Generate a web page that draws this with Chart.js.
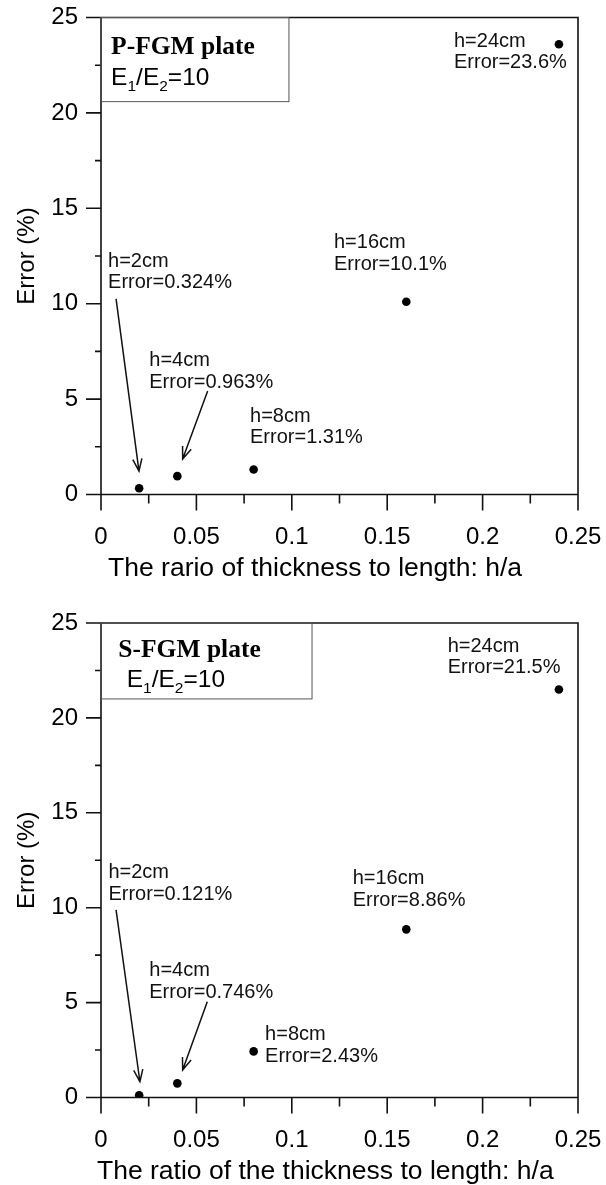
<!DOCTYPE html>
<html>
<head>
<meta charset="utf-8">
<script src="https://cdn.jsdelivr.net/npm/chart.js@4.4.0/dist/chart.umd.min.js"></script>
<style>
  html, body { margin: 0; padding: 0; background: #fff; overflow: hidden; }
  .panel { position: absolute; left: 0; width: 606px; height: 592px; }
</style>
</head>
<body>
<div class="panel" style="top:0"><canvas id="chartP" width="606" height="592"></canvas></div>
<div class="panel" style="top:605px"><canvas id="chartS" width="606" height="592"></canvas></div>
<script>
// data
const ratio = [0.02, 0.04, 0.08, 0.16, 0.24];
const thicknessCm = [2, 4, 8, 16, 24];
const errorP = [0.324, 0.963, 1.31, 10.1, 23.6];
const errorS = [0.121, 0.746, 2.43, 8.86, 21.5];
const xTicks = [0, 0.05, 0.1, 0.15, 0.2, 0.25];
const yTicks = [0, 5, 10, 15, 20, 25];

// annotation anchors, in data units (x = h/a, y = error %)
const labelPosP = [[0.0037, 11.94], [0.0253, 6.73], [0.0781, 3.82], [0.1221, 12.9], [0.185, 23.47]];
const labelPosS = [[0.0039, 11.55], [0.0253, 6.40], [0.086, 3.03], [0.1319, 11.25], [0.1817, 23.49]];
const arrowsP = [[[0.0079, 10.25], [0.0199, 1.23]], [[0.0559, 5.42], [0.0428, 1.86]]];
const arrowsS = [[[0.0079, 9.88], [0.0204, 0.83]], [[0.0557, 5.05], [0.0428, 1.45]]];

const SANS = "'Liberation Sans', Arial, sans-serif";
const SERIF = "'Liberation Serif', 'Times New Roman', serif";

function drawArrow(ctx, x1, y1, x2, y2) {
  const a = Math.atan2(y2 - y1, x2 - x1);
  const len = 13, spread = 0.36;
  ctx.beginPath();
  ctx.moveTo(x1, y1);
  ctx.lineTo(x2, y2);
  ctx.moveTo(x2 - len * Math.cos(a - spread), y2 - len * Math.sin(a - spread));
  ctx.lineTo(x2, y2);
  ctx.lineTo(x2 - len * Math.cos(a + spread), y2 - len * Math.sin(a + spread));
  ctx.stroke();
}

const framePlugin = {
  id: 'frame',
  afterDraw(chart, args, o) {
    const { ctx, scales: { x, y } } = chart;
    const px = v => x.getPixelForValue(v), py = v => y.getPixelForValue(v);
    const left = px(0), right = px(0.25), top = py(25), bottom = py(0);
    ctx.save();
    ctx.strokeStyle = '#111';
    ctx.lineWidth = 1.6;
    ctx.beginPath();
    ctx.moveTo(left, bottom + 16); ctx.lineTo(left, top); ctx.lineTo(right, top); ctx.lineTo(right, bottom + 16);
    ctx.moveTo(left - 15, bottom); ctx.lineTo(right, bottom);
    for (let i = 1; i <= 10; i++) {
      const v = i * 2.5, major = i % 2 === 0;
      ctx.moveTo(left - (major ? 15 : 6), py(v)); ctx.lineTo(left, py(v));
    }
    for (let i = 1; i < 10; i++) {
      const v = i * 0.025, major = i % 2 === 0;
      ctx.moveTo(px(v), bottom); ctx.lineTo(px(v), bottom + (major ? 16 : 9));
    }
    ctx.stroke();

    ctx.fillStyle = '#000';
    ctx.textBaseline = 'alphabetic';
    ctx.textAlign = 'left';

    // x axis title
    ctx.font = '26.5px ' + SANS;
    ctx.fillText(o.xTitle, px(o.xTitleAt), bottom + 81.5);

    // legend box
    const b = o.box;
    ctx.lineWidth = 1;
    ctx.strokeStyle = '#555';
    ctx.strokeRect(px(b[0]), py(b[3]), px(b[1]) - px(b[0]), py(b[2]) - py(b[3]));
    ctx.font = 'bold 25.5px ' + SERIF;
    ctx.fillText(o.title, px(o.titlePos[0]), py(o.titlePos[1]));
    // E1/E2=10 with subscripts
    let ex = px(o.ePos[0]);
    const ey = py(o.ePos[1]);
    const parts = [['E', 0], ['1', 1], ['/E', 0], ['2', 1], ['=10', 0]];
    parts.forEach(([t, sub]) => {
      ctx.font = (sub ? '15.5px ' : '24.5px ') + SANS;
      ctx.fillText(t, ex, ey + (sub ? 6 : 0));
      ex += ctx.measureText(t).width;
    });

    // point labels
    ctx.font = '20px ' + SANS;
    ctx.fillStyle = '#111';
    o.labels.forEach((p, i) => {
      const lx = px(p[0]), ly = py(p[1]);
      ctx.fillText('h=' + thicknessCm[i] + 'cm', lx, ly);
      ctx.fillText('Error=' + o.errors[i] + '%', lx, ly + 21.7);
    });

    // arrows
    ctx.strokeStyle = '#111';
    ctx.lineWidth = 1.5;
    o.arrows.forEach(([s, e]) => drawArrow(ctx, px(s[0]), py(s[1]), px(e[0]), py(e[1])));
    ctx.restore();
  }
};

function makeChart(id, errors, padTop, xHeight, frameOpts) {
  return new Chart(document.getElementById(id).getContext('2d'), {
    type: 'scatter',
    data: {
      datasets: [{
        data: ratio.map((r, i) => ({ x: r, y: errors[i] })),
        backgroundColor: '#000',
        borderWidth: 0,
        pointRadius: 4.3,
        pointHoverRadius: 4.3
      }]
    },
    options: {
      responsive: false,
      animation: false,
      layout: { padding: { top: padTop, right: 28, left: 0, bottom: 0 } },
      plugins: {
        legend: { display: false },
        tooltip: { enabled: false },
        frame: frameOpts
      },
      scales: {
        x: {
          type: 'linear', min: 0, max: 0.25,
          grid: { display: false, drawTicks: false },
          border: { display: false },
          afterBuildTicks: s => { s.ticks = xTicks.map(v => ({ value: v })); },
          afterFit: s => { s.height = xHeight; s.paddingLeft = 0; s.paddingRight = 0; },
          ticks: {
            color: '#000', padding: 28, maxRotation: 0,
            font: { family: SANS, size: 24 },
            callback: v => String(+v.toFixed(2))
          }
        },
        y: {
          type: 'linear', min: 0, max: 25,
          grid: { display: false, drawTicks: false },
          border: { display: false },
          afterBuildTicks: s => { s.ticks = yTicks.map(v => ({ value: v })); },
          afterFit: s => { s.width = 101; s.paddingTop = 0; s.paddingBottom = 0; },
          ticks: {
            color: '#000', padding: 23,
            font: { family: SANS, size: 24 }
          },
          title: {
            display: true, text: 'Error (%)', color: '#000',
            font: { family: SANS, size: 24, lineHeight: 1 },
            padding: { top: 15, bottom: 0 }
          }
        }
      }
    },
    plugins: [framePlugin]
  });
}

makeChart('chartP', errorP, 17.5, 97.5, {
  xTitle: 'The rario of thickness to length: h/a', xTitleAt: 0.0037,
  box: [0, 0.0985, 20.59, 25],
  title: 'P-FGM plate', titlePos: [0.0053, 23.09], ePos: [0.0053, 21.44],
  labels: labelPosP, errors: errorP, arrows: arrowsP
});
makeChart('chartS', errorS, 18, 99.5, {
  xTitle: 'The ratio of the thickness to length: h/a', xTitleAt: -0.0021,
  box: [0, 0.1106, 21.0, 25],
  title: 'S-FGM plate', titlePos: [0.0091, 23.22], ePos: [0.0135, 21.64],
  labels: labelPosS, errors: errorS, arrows: arrowsS
});
</script>
</body>
</html>
